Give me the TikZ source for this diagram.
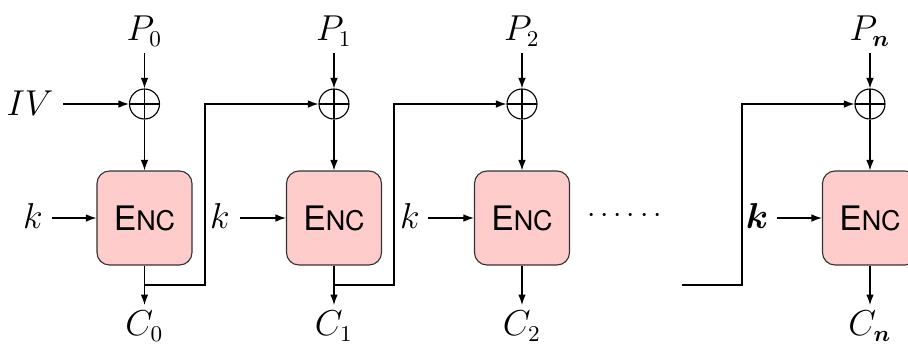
\documentclass[tikz,border=0pt]{standalone}
\usepackage{fontspec}
\usepackage{amsmath}
\usepackage{amsbsy}
\newfontfamily\encfont{TeX Gyre Heros}
\usetikzlibrary{arrows.meta,calc}
\newcommand{\encname}{{\encfont\fontsize{13.5}{14}\selectfont E{\fontsize{10.8}{11}\selectfont NC}}}
\tikzset{
  ln/.style={line width=0.45pt},
  arr/.style={ln,-{Latex[length=4.2pt,width=3pt]}},
  encbox/.style={draw=black!80,ln,fill=red!20,rounded corners=5pt,minimum width=38pt,minimum height=37.6pt,inner sep=0pt},
  xor/.style={draw,ln,circle,minimum size=12pt,inner sep=0pt,
    path picture={\draw[ln] (path picture bounding box.north) -- (path picture bounding box.south)
      (path picture bounding box.west) -- (path picture bounding box.east);}},
  lbl/.style={inner sep=0pt,font=\fontsize{13.5}{15}\selectfont},
}
\begin{document}
\begin{tikzpicture}[x=0.4pt,y=-0.4pt]
\useasboundingbox (0,0) rectangle (908,343);
% columns
\foreach \i/\cx in {0/144.5,1/334,2/522,3/870}{
  \node[xor] (x\i) at (\cx,104) {};
  \node[encbox] (e\i) at (\cx,218) {\encname};
  \coordinate (pe\i) at (\cx,53);
  \coordinate (ce\i) at (\cx,305);
  \coordinate (f\i) at (\cx,285);
}
\node[lbl] (p0) at (144.5,31) {$P_0$};
\node[lbl] (p1) at (334,31) {$P_1$};
\node[lbl] (p2) at (522,31) {$P_2$};
\node[lbl] (p3) at (870,31) {$P_{\boldsymbol{n}}$};
\node[lbl] (c0) at (144.5,326) {$C_0$};
\node[lbl] (c1) at (334,326) {$C_1$};
\node[lbl] (c2) at (522,326) {$C_2$};
\node[lbl] (c3) at (870,326) {$C_{\boldsymbol{n}}$};
\node[lbl] (iv) at (30,103) {$IV$};
\node[lbl] (k0) at (33,216) {$k$};
\node[lbl] (k1) at (220,216) {$k$};
\node[lbl] (k2) at (410,216) {$k$};
\node[lbl] (k3) at (757,216) {$\boldsymbol{k}$};
\node[lbl,font=\fontsize{12.5}{14}\selectfont] (dots) at (627,216) {$\cdots\cdots$};
\coordinate (kk0) at (52,218);
\coordinate (kk1) at (240,218);
\coordinate (kk2) at (428,218);
\coordinate (kk3) at (777,218);
\coordinate (ivs) at (63,104);
\foreach \i in {0,1,2,3}{
  \draw[arr] (pe\i) -- (x\i.north);
  \draw[arr] (x\i.south) -- (e\i.north);
  \draw[arr] (e\i.south) -- (ce\i);
  \draw[arr] (kk\i) -- (e\i.west);
}
\draw[arr] (ivs) -- (x0.west);
\coordinate (b1) at (205,285);
\coordinate (b2) at (394,285);
\coordinate (b3) at (742,285);
\coordinate (fs) at (682,285);
\draw[arr] (f0) -- (b1) |- (x1.west);
\draw[arr] (f1) -- (b2) |- (x2.west);
\draw[arr] (fs) -- (b3) |- (x3.west);
\end{tikzpicture}
\end{document}
